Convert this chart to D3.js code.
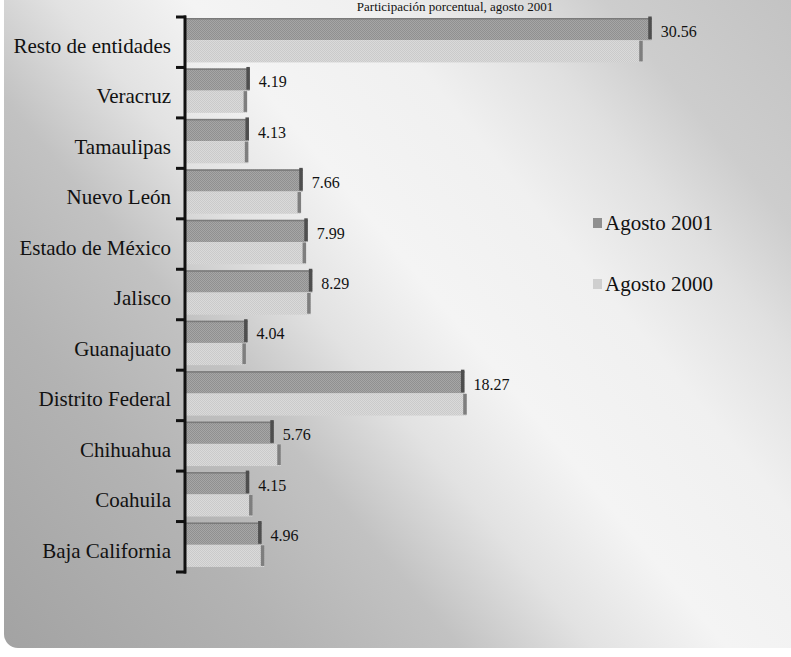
<!DOCTYPE html>
<html>
<head>
<meta charset="utf-8">
<script src="https://cdn.jsdelivr.net/npm/d3@7/dist/d3.min.js"></script>
<style>
  html, body { margin: 0; padding: 0; background: #ffffff; }
  svg { display: block; }
  text { font-family: "Liberation Serif", "DejaVu Serif", serif; fill: #111; }
</style>
</head>
<body>
<svg id="chart" width="791" height="657"></svg>
<script>
// ---- data ----
const categories = [
  "Resto de entidades", "Veracruz", "Tamaulipas", "Nuevo León",
  "Estado de México", "Jalisco", "Guanajuato", "Distrito Federal",
  "Chihuahua", "Coahuila", "Baja California"
];
const agosto2001 = [30.56, 4.19, 4.13, 7.66, 7.99, 8.29, 4.04, 18.27, 5.76, 4.15, 4.96];
const agosto2000 = [29.97, 4.01, 4.09, 7.55, 7.88, 8.18, 3.93, 18.42, 6.22, 4.37, 5.14];
const seriesNames = ["Agosto 2001", "Agosto 2000"];
const titleText = "Participación porcentual, agosto 2001";

// ---- setup ----
const W = 791, H = 657;
const svg = d3.select("#chart");
const defs = svg.append("defs");

const bg = defs.append("linearGradient").attr("id", "bg")
  .attr("gradientUnits", "userSpaceOnUse")
  .attr("x1", 0).attr("y1", H).attr("x2", W).attr("y2", 0);
[[0, "#a2a2a2"], [0.22, "#b3b3b3"], [0.35, "#c2c2c2"], [0.45, "#e2e2e2"],
 [0.55, "#f4f4f4"], [0.68, "#f0f0f0"], [0.78, "#e0e0e0"], [0.86, "#cdcdcd"], [1, "#c3c3c3"]]
  .forEach(([o, c]) => bg.append("stop").attr("offset", o).attr("stop-color", c));

function checker(id, a, b) {
  const p = defs.append("pattern").attr("id", id)
    .attr("patternUnits", "userSpaceOnUse").attr("width", 2).attr("height", 2);
  p.append("rect").attr("width", 2).attr("height", 2).attr("fill", a);
  p.append("rect").attr("width", 1).attr("height", 1).attr("fill", b);
  p.append("rect").attr("x", 1).attr("y", 1).attr("width", 1).attr("height", 1).attr("fill", b);
}
checker("p2001", "#a6a6a6", "#909090");
checker("p2000", "#dadada", "#cacaca");

const fills = ["url(#p2001)", "url(#p2000)"];
const legendFills = ["#8f8f8f", "#cfcfcf"];
const edgeFills = ["#4e4e4e", "#7e7e7e"];

// page background with rounded frame
svg.append("rect").attr("x", 4).attr("y", -20).attr("width", W + 20).attr("height", 668)
  .attr("rx", 14).attr("fill", "url(#bg)");

// title strip at top (cut by the scan in the reference)
svg.append("text").attr("x", 455).attr("y", 11).attr("text-anchor", "middle")
  .style("font-size", "13px").attr("fill", "#333").text(titleText);

// ---- scales ----
const y = d3.scaleBand().domain(categories).range([17, 572]).padding(0);
const x = d3.scaleLinear().domain([0, 35]).range([186, 186 + 35 * 15.24]);
const ySub = d3.scaleBand().domain(seriesNames)
  .range([1, y.bandwidth() * 0.9]).padding(0);

const rows = categories.map((c, i) => ({ c, vals: [agosto2001[i], agosto2000[i]] }));

const g = svg.append("g");
rows.forEach(r => {
  r.vals.forEach((v, s) => {
    const y0 = y(r.c) + ySub(seriesNames[s]);
    const h = ySub.bandwidth();
    g.append("rect").attr("x", x(0)).attr("y", y0)
      .attr("width", x(v) - x(0)).attr("height", h).attr("fill", fills[s]);
    if (s === 0) {
      g.append("rect").attr("x", x(0)).attr("y", y0)
        .attr("width", x(v) - x(0)).attr("height", 1.5).attr("fill", "#7a7a7a");
    }
    g.append("rect").attr("x", x(v) - 3.5).attr("y", s === 0 ? y0 - 1.5 : y0 + 0.5)
      .attr("width", 3.5).attr("height", s === 0 ? h + 0.5 : h - 1.5)
      .attr("fill", edgeFills[s]);
  });
  // value label for 2001
  g.append("text")
    .attr("x", x(r.vals[0]) + 9)
    .attr("y", y(r.c) + ySub(seriesNames[0]) + ySub.bandwidth() / 2 + 2)
    .attr("dy", "0.35em")
    .style("font-size", "16px")
    .text(r.vals[0].toFixed(2));
});

// ---- axis ----
const axis = svg.append("g").attr("transform", "translate(171,4)")
  .call(d3.axisLeft(y).tickSize(0).tickPadding(0));
axis.select(".domain").remove();
axis.selectAll("text")
  .style("font-family", "'Liberation Serif', serif")
  .style("font-size", "21px").attr("fill", "#111");

const bounds = categories.map(c => y(c)).concat([y.range()[1]]);
svg.append("line").attr("x1", 185).attr("x2", 185)
  .attr("y1", bounds[0] - 1.5).attr("y2", bounds[bounds.length - 1] + 1.5)
  .attr("stroke", "#111").attr("stroke-width", 3);
svg.selectAll(".tk").data(bounds).join("line").attr("class", "tk")
  .attr("x1", 176).attr("x2", 186).attr("y1", d => d).attr("y2", d => d)
  .attr("stroke", "#111").attr("stroke-width", 3);

// ---- legend ----
const legY = [223, 284];
seriesNames.forEach((n, i) => {
  svg.append("rect").attr("x", 593).attr("y", legY[i] - 5).attr("width", 9).attr("height", 10)
    .attr("fill", legendFills[i]);
  svg.append("text").attr("x", 605).attr("y", legY[i]).attr("dy", "0.35em")
    .style("font-size", "21px").text(n);
});
</script>
</body>
</html>
